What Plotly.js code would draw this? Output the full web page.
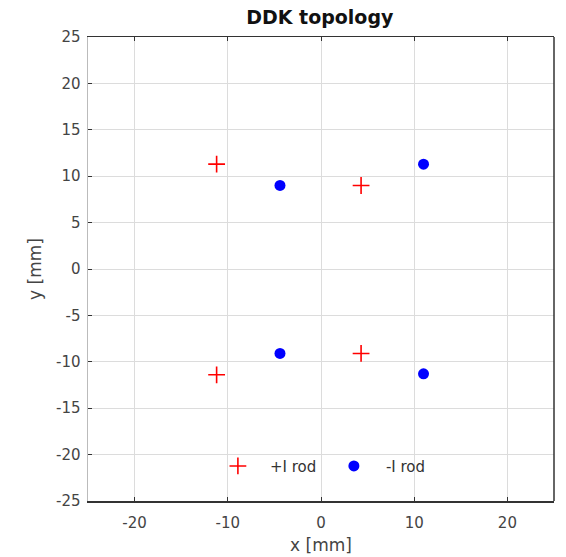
<!DOCTYPE html>
<html><head><meta charset="utf-8">
<script src="https://cdn.plot.ly/plotly-3.0.1.min.js"></script>
<style>body{margin:0;background:#fff}</style>
</head><body>
<div id="chart" style="width:566px;height:557px"></div>
<script>
const plusX = [-11.2, 4.3, -11.2, 4.3];
const plusY = [11.3, 9.0, -11.4, -9.1];
const minusX = [-4.4, 11.0, -4.4, 11.0];
const minusY = [9.0, 11.3, -9.1, -11.3];
const names = ['+I rod', '-I rod'];
const xTicks = [-20, -10, 0, 10, 20];
const xTickText = ['-20', '-10', '0', '10', '20'];
const yTicks = [-25, -20, -15, -10, -5, 0, 5, 10, 15, 20, 25];
const yTickText = ['-25', '-20', '-15', '-10', '-5', '0', '5', '10', '15', '20', '25'];

const fam = 'DejaVu Sans, Arial, sans-serif';
const data = [
  {x: plusX, y: plusY, name: names[0], mode: 'markers', type: 'scatter',
   marker: {symbol: 'cross-thin-open', size: 12, color: '#ff0000', line: {color: '#ff0000', width: 1.6}}},
  {x: minusX, y: minusY, name: names[1], mode: 'markers', type: 'scatter',
   marker: {symbol: 'circle', size: 11, color: '#0000ff'}}
];
const layout = {
  width: 566, height: 557,
  margin: {l: 88, r: 12, t: 37, b: 56},
  paper_bgcolor: '#fff', plot_bgcolor: '#fff',
  font: {family: fam, size: 15, color: '#444'},
  title: {text: '<b>DDK topology</b>', x: 0.565, xanchor: 'center', y: 0.968, yanchor: 'middle',
          font: {family: fam, size: 19, color: '#111'}},
  xaxis: {range: [-25, 25], tickvals: xTicks, ticktext: xTickText, ticks: 'inside', ticklen: 4, tickcolor: '#333',
          showline: true, linecolor: '#333', linewidth: 1.5, mirror: 'ticks',
          showgrid: true, gridcolor: '#dcdcdc', zeroline: false, ticklabelstandoff: 7,
          title: {text: 'x [mm]', standoff: 8, font: {size: 17, color: '#444'}},
          tickfont: {size: 15, color: '#444'}},
  yaxis: {range: [-25, 25], tickvals: yTicks, ticktext: yTickText, ticks: 'inside', ticklen: 4, tickcolor: '#333',
          showline: true, linecolor: '#bbb', linewidth: 1.5, mirror: false,
          showgrid: true, gridcolor: '#dcdcdc', zeroline: false, ticklabelstandoff: 3,
          title: {text: 'y [mm]', standoff: 10, font: {size: 17, color: '#444'}},
          tickfont: {size: 15, color: '#444'}},
  shapes: [
    {type: 'line', xref: 'paper', yref: 'paper', x0: 1, x1: 1, y0: 0, y1: 1,
     line: {color: '#333', width: 1.5}}
  ],
  legend: {orientation: 'h', x: 0.253, xanchor: 'left', y: 0.075, yanchor: 'middle',
           bgcolor: 'rgba(255,255,255,0)', font: {size: 15, color: '#333'},
           itemwidth: 54, entrywidth: 47},
  showlegend: true
};
Plotly.newPlot('chart', data, layout, {displayModeBar: false, staticPlot: true});
</script>
</body></html>
